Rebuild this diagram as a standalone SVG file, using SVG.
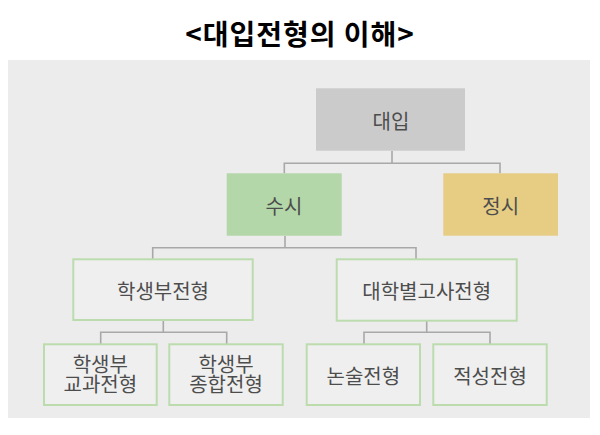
<svg xmlns="http://www.w3.org/2000/svg" width="600" height="435" viewBox="0 0 600 435">
<style>
.t{font-family:"Noto Sans CJK KR","Noto Sans",sans-serif;font-size:20px;fill:#4d4d4d;text-anchor:middle}
.title{font-family:"Noto Sans CJK KR","Noto Sans",sans-serif;font-size:28px;font-weight:bold;fill:#000000;text-anchor:middle;letter-spacing:1px}
.ob{fill:#efefef;stroke:#bcdcae;stroke-width:2}
.c{fill:none;stroke:#a8a8a8;stroke-width:1.6}
</style>
<rect width="600" height="435" fill="#ffffff"/>
<text class="title" x="300" y="44.5">&lt;대입전형의 이해&gt;</text>
<rect x="8" y="60" width="582" height="358" fill="#ececec"/>
<g id="connectors">
<path class="c" d="M392,151V163.3M284.3,173.3V163.3H500V173.3"/>
<path class="c" d="M285,236V247.7M152.7,259.3V247.7H416V259.3"/>
<path class="c" d="M163.3,320V332.3M100.7,344.3V332.3H226.7V344.3"/>
<path class="c" d="M426.7,321V332.3M364,344.3V332.3H490V344.3"/>
</g>
<g id="n-daeip"><rect x="316" y="88.3" width="149" height="62.4" fill="#cbcbcb"/><text class="t" x="391" y="128.5">대입</text></g>
<g id="n-susi"><rect x="226.7" y="173.3" width="115" height="62.4" fill="#b3d7a8"/><text class="t" x="284" y="213.5">수시</text></g>
<g id="n-jeongsi"><rect x="443.3" y="173.3" width="114.7" height="62.4" fill="#e6cd83"/><text class="t" x="500.7" y="213.5">정시</text></g>
<g id="n-hsb"><rect class="ob" x="73.3" y="259.3" width="179.4" height="60.7"/><text class="t" x="163" y="299">학생부전형</text></g>
<g id="n-daehak"><rect class="ob" x="336.7" y="259.3" width="180" height="61.4"/><text class="t" x="426.7" y="299">대학별고사전형</text></g>
<g id="n-gyogwa"><rect class="ob" x="44" y="344.3" width="112.7" height="60.7"/><text class="t" x="100.3" y="371.5">학생부<tspan x="100.3" dy="20.7">교과전형</tspan></text></g>
<g id="n-jonghap"><rect class="ob" x="169.3" y="344.3" width="113.4" height="60.7"/><text class="t" x="226" y="371.5">학생부<tspan x="226" dy="20.7">종합전형</tspan></text></g>
<g id="n-nonsul"><rect class="ob" x="306.7" y="344.3" width="113.3" height="60.7"/><text class="t" x="363.3" y="384">논술전형</text></g>
<g id="n-jeokseong"><rect class="ob" x="433.3" y="344.3" width="113.4" height="60.7"/><text class="t" x="490" y="384">적성전형</text></g>
</svg>
